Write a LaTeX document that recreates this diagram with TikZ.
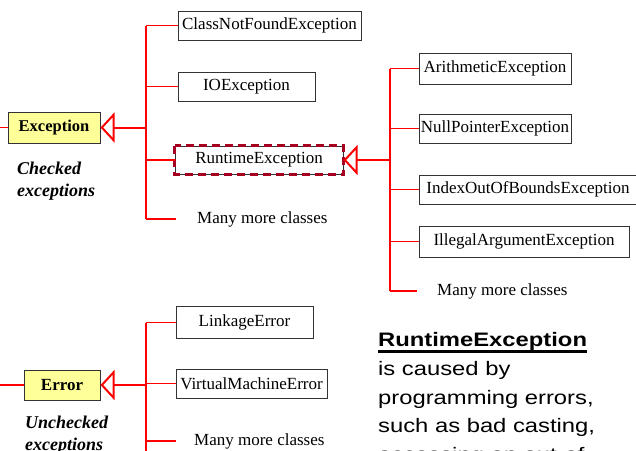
\documentclass[tikz,border=0pt]{standalone}
\usepackage{fontspec}
\setmainfont{Liberation Serif}
\newfontfamily\arialfont[FakeStretch=1.22]{Liberation Sans}
\usetikzlibrary{arrows.meta}
\definecolor{wire}{HTML}{FF0000}
\definecolor{darkred}{HTML}{A50021}
\definecolor{paleyellow}{HTML}{FFFF99}
\tikzset{
  cls/.style={draw=black!80, line width=1pt, fill=white, inner sep=0pt,
    font=\fontsize{17}{19}\selectfont},
  rootcls/.style={cls, fill=paleyellow, font=\fontsize{16.5}{19}\selectfont\bfseries},
  runtimebox/.style={cls},
  moretext/.style={inner sep=0pt, font=\fontsize{17}{19}\selectfont},
  note/.style={inner sep=0pt, align=left, font=\fontsize{18}{22}\selectfont\bfseries\itshape},
  spine/.style={draw=wire, line width=2pt},
  branch/.style={draw=wire, line width=1.2pt},
  inherit/.style={draw=wire, line width=2pt, -{Triangle[open, length=14pt, width=30pt]}},
}
\begin{document}
\begin{tikzpicture}[x=1pt, y=-1pt]
\useasboundingbox (0,0) rectangle (636,450);

% ---- Exception hierarchy ----
\node[rootcls, minimum width=92pt, minimum height=31pt] (exc) at (54,127.5) {Exception};
\node[cls, minimum width=183pt, minimum height=29pt] (cnf) at (269.5,25.5) {ClassNotFoundException};
\node[cls, minimum width=137pt, minimum height=29pt] (ioe) at (246.5,86.5) {IOException};
\node[runtimebox, minimum width=168pt, minimum height=28pt] (rte) at (259,160) {RuntimeException};
\draw[darkred, line width=3pt, dash pattern=on 8pt off 5pt] (rte.north west) rectangle (rte.south east);
\node[moretext, anchor=west] (more1) at (176,219) {\hspace{21pt}Many more classes};

\coordinate (exin) at (0,127.5);
\coordinate (sp1) at (146,127.5);
\draw[branch] (exin) -- (exc.west);
\draw[inherit] (sp1) -- (exc.east);
\draw[spine] (sp1 |- cnf.west) -- (sp1 |- more1.west);
\draw[branch] (sp1 |- cnf.west) -- (cnf.west);
\draw[branch] (sp1 |- ioe.west) -- (ioe.west);
\draw[branch] (sp1 |- rte.west) -- (rte.west);
\draw[branch] (sp1 |- more1.west) -- (more1.west);

\node[note, anchor=north west] (chk) at (17,162) {Checked\\exceptions};

% ---- RuntimeException subclasses ----
\node[cls, minimum width=152pt, minimum height=31pt] (ari) at (495,68.5) {ArithmeticException};
\node[cls, minimum width=152pt, minimum height=29pt] (npe) at (495,128.5) {NullPointerException};
\node[cls, minimum width=218pt, minimum height=29pt] (ioob) at (528,189.5) {IndexOutOfBoundsException};
\node[cls, minimum width=210pt, minimum height=31pt] (iae) at (524,241.5) {IllegalArgumentException};
\node[moretext, anchor=west] (more2) at (417,291) {\hspace{20pt}Many more classes};

\coordinate (sp2) at (390,160);
\draw[inherit] (sp2) -- (rte.east);
\draw[spine] (sp2 |- ari.west) -- (sp2 |- more2.west);
\draw[branch] (sp2 |- ari.west) -- (ari.west);
\draw[branch] (sp2 |- npe.west) -- (npe.west);
\draw[branch] (sp2 |- ioob.west) -- (ioob.west);
\draw[branch] (sp2 |- iae.west) -- (iae.west);
\draw[branch] (sp2 |- more2.west) -- (more2.west);

% ---- Error hierarchy ----
\node[rootcls, font=\fontsize{17}{19}\selectfont\bfseries, minimum width=76pt, minimum height=30pt] (err) at (62,385) {Error};
\node[cls, minimum width=137pt, minimum height=32pt] (lnk) at (244.5,322.5) {LinkageError};
\node[cls, minimum width=151pt, minimum height=29pt] (vme) at (251.5,383.5) {VirtualMachineError};
\node[moretext, anchor=west] (more3) at (176,441) {\hspace{18pt}Many more classes};

\coordinate (errin) at (0,385);
\coordinate (sp3) at (146,385);
\coordinate (sp3end) at (146,452);
\draw[branch] (errin) -- (err.west);
\draw[inherit] (sp3) -- (err.east);
\draw[spine] (sp3 |- lnk.west) -- (sp3end);
\draw[branch] (sp3 |- lnk.west) -- (lnk.west);
\draw[branch] (sp3 |- vme.west) -- (vme.west);
\draw[branch] (sp3 |- more3.west) -- (more3.west);

\node[note, anchor=north west] (unchk) at (25,416) {Unchecked\\exceptions};

% ---- explanatory note ----
\node[inner sep=0pt, anchor=north west, align=left,
  font=\arialfont\fontsize{19.5}{28.7}\selectfont] (desc) at (378,332.5)
  {\textbf{RuntimeException}\\is caused by\\programming errors,\\such as bad casting,\\accessing an out-of};
\draw[line width=2.5pt] ([yshift=-19pt]desc.north west) -- ++(209,0);
\end{tikzpicture}
\end{document}
